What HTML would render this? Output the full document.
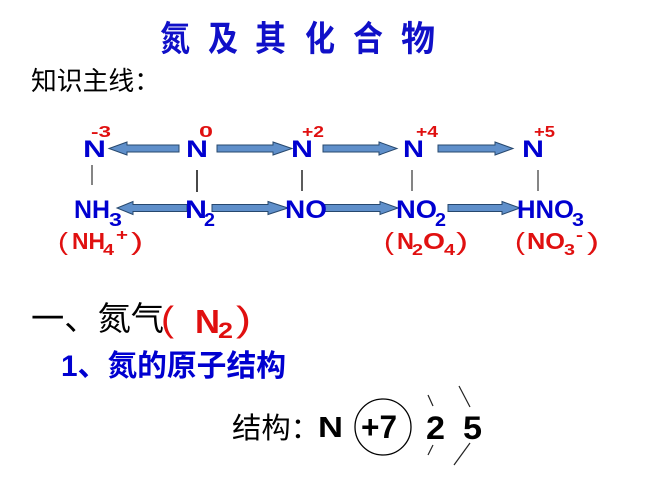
<!DOCTYPE html>
<html><head><meta charset="utf-8"><style>
html,body{margin:0;padding:0;background:#fff;}
svg{display:block;}
.lat{font-family:"Liberation Sans",sans-serif;font-weight:bold;}
.cjk{font-family:"Liberation Sans","Noto Sans CJK SC",sans-serif;}
</style></head><body>
<svg width="667" height="500" viewBox="0 0 667 500" xmlns="http://www.w3.org/2000/svg">
<rect width="667" height="500" fill="#fff"/>
<!-- Title -->
<g class="cjk" font-size="35" font-weight="bold" fill="#1010c8">
<text x="160" y="51" textLength="30" lengthAdjust="spacingAndGlyphs">氮</text>
<text x="208" y="51" textLength="30" lengthAdjust="spacingAndGlyphs">及</text>
<text x="255" y="51" textLength="31" lengthAdjust="spacingAndGlyphs">其</text>
<text x="305" y="51" textLength="30" lengthAdjust="spacingAndGlyphs">化</text>
<text x="353" y="51" textLength="30" lengthAdjust="spacingAndGlyphs">合</text>
<text x="401" y="51" textLength="34" lengthAdjust="spacingAndGlyphs">物</text>
</g>
<text class="cjk" x="31" y="90" font-size="26" fill="#000" textLength="129" lengthAdjust="spacingAndGlyphs">知识主线：</text>

<!-- Arrows -->
<g fill="#5f8fca" stroke="#27486e" stroke-width="1">
<polygon points="179,145 127,145 127,142 109,148.5 127,155 127,152 179,152"/>
<polygon points="217,145 273,145 273,142 292,148.5 273,155 273,152 217,152"/>
<polygon points="323,145 379,145 379,142 397,148.5 379,155 379,152 323,152"/>
<polygon points="438,145 495,145 495,142 513,148.5 495,155 495,152 438,152"/>
<polygon points="187,204.5 133,204.5 133,201.5 117,208 133,214.5 133,211.5 187,211.5"/>
<polygon points="212,204.5 268,204.5 268,201.5 288,208 268,214.5 268,211.5 212,211.5"/>
<polygon points="325,204.5 380,204.5 380,201.5 398,208 380,214.5 380,211.5 325,211.5"/>
<polygon points="448,204.5 502,204.5 502,201.5 520,208 502,214.5 502,211.5 448,211.5"/>
</g>

<!-- vertical connectors -->
<g stroke="#333" stroke-width="1.2">
<line x1="92" y1="165" x2="92" y2="185"/>
<line x1="197" y1="170" x2="197" y2="192" stroke-width="1.8"/>
<line x1="302" y1="170" x2="302" y2="191" stroke-width="1.6"/>
<line x1="412" y1="170" x2="412" y2="191"/>
<line x1="538" y1="170" x2="538" y2="191"/>
</g>

<!-- top row N -->
<g class="lat" font-size="24.5" fill="#0000d0">
<text x="83" y="157" textLength="23" lengthAdjust="spacingAndGlyphs">N</text>
<text x="186" y="157" textLength="22" lengthAdjust="spacingAndGlyphs">N</text>
<text x="291" y="157" textLength="22" lengthAdjust="spacingAndGlyphs">N</text>
<text x="403" y="157" textLength="21" lengthAdjust="spacingAndGlyphs">N</text>
<text x="522" y="157" textLength="22" lengthAdjust="spacingAndGlyphs">N</text>
</g>
<g class="lat" font-size="16" fill="#e01010">
<text x="91" y="137" textLength="20" lengthAdjust="spacingAndGlyphs">-3</text>
<text x="199" y="137" textLength="14" lengthAdjust="spacingAndGlyphs">0</text>
<text x="302" y="137" textLength="22" lengthAdjust="spacingAndGlyphs">+2</text>
<text x="416" y="137" textLength="22" lengthAdjust="spacingAndGlyphs">+4</text>
<text x="534" y="137" textLength="21" lengthAdjust="spacingAndGlyphs">+5</text>
</g>

<!-- second row -->
<g class="lat" font-size="25" fill="#0000d0">
<text x="74" y="218" textLength="36" lengthAdjust="spacingAndGlyphs">NH</text>
<text x="185" y="218" textLength="22" lengthAdjust="spacingAndGlyphs">N</text>
<text x="285" y="218" textLength="42" lengthAdjust="spacingAndGlyphs">NO</text>
<text x="396" y="218" textLength="41" lengthAdjust="spacingAndGlyphs">NO</text>
<text x="517" y="218" textLength="57" lengthAdjust="spacingAndGlyphs">HNO</text>
</g>
<g class="lat" font-size="18" fill="#0000d0">
<text x="109" y="226" textLength="13" lengthAdjust="spacingAndGlyphs">3</text>
<text x="204" y="226" textLength="11" lengthAdjust="spacingAndGlyphs">2</text>
<text x="435" y="226" textLength="11" lengthAdjust="spacingAndGlyphs">2</text>
<text x="572" y="226" textLength="12" lengthAdjust="spacingAndGlyphs">3</text>
</g>

<!-- third row red -->
<g fill="#e01010">
<g font-family="Liberation Sans, sans-serif" font-size="25">
<text x="58" y="250" textLength="10" lengthAdjust="spacingAndGlyphs">(</text>
<text x="131" y="250" textLength="12" lengthAdjust="spacingAndGlyphs">)</text>
<text x="384" y="250" textLength="10" lengthAdjust="spacingAndGlyphs">(</text>
<text x="456" y="250" textLength="12" lengthAdjust="spacingAndGlyphs">)</text>
<text x="515" y="250" textLength="10" lengthAdjust="spacingAndGlyphs">(</text>
<text x="587" y="250" textLength="12" lengthAdjust="spacingAndGlyphs">)</text>
</g>
<g class="lat" font-size="23">
<text x="72" y="249" textLength="33" lengthAdjust="spacingAndGlyphs">NH</text>
<text x="397" y="249" textLength="17" lengthAdjust="spacingAndGlyphs">N</text>
<text x="423" y="249" textLength="22" lengthAdjust="spacingAndGlyphs">O</text>
<text x="527" y="249" textLength="38" lengthAdjust="spacingAndGlyphs">NO</text>
</g>
<g class="lat" font-size="16">
<text x="103" y="255" textLength="11" lengthAdjust="spacingAndGlyphs">4</text>
<text x="116" y="240" textLength="12" lengthAdjust="spacingAndGlyphs">+</text>
<text x="412" y="255" textLength="11" lengthAdjust="spacingAndGlyphs">2</text>
<text x="444" y="255" textLength="11" lengthAdjust="spacingAndGlyphs">4</text>
<text x="564" y="255" textLength="11" lengthAdjust="spacingAndGlyphs">3</text>
<text x="576" y="240" textLength="7" lengthAdjust="spacingAndGlyphs">-</text>
</g>
</g>

<!-- Section heading -->
<text class="cjk" x="31" y="330" font-size="33" fill="#000" textLength="133" lengthAdjust="spacingAndGlyphs">一、氮气</text>
<g fill="#e01010">
<text x="161" y="331" font-family="Liberation Sans, sans-serif" font-size="35" textLength="13" lengthAdjust="spacingAndGlyphs">(</text>
<text x="236" y="331" font-family="Liberation Sans, sans-serif" font-size="35" textLength="15" lengthAdjust="spacingAndGlyphs">)</text>
<text class="lat" x="195" y="333" font-size="33" textLength="25" lengthAdjust="spacingAndGlyphs">N</text>
<text class="lat" x="218" y="338" font-size="22" textLength="15" lengthAdjust="spacingAndGlyphs">2</text>
</g>

<text class="cjk" x="61" y="376" font-size="30" font-weight="bold" fill="#0000d0" textLength="225" lengthAdjust="spacingAndGlyphs">1、氮的原子结构</text>

<!-- structure -->
<text class="cjk" x="232" y="438" font-size="29" fill="#000" textLength="88" lengthAdjust="spacingAndGlyphs">结构：</text>
<text class="lat" x="318" y="437" font-size="29" fill="#000" textLength="25" lengthAdjust="spacingAndGlyphs">N</text>
<circle cx="383" cy="427" r="28" fill="none" stroke="#000" stroke-width="1.3"/>
<text class="lat" x="361" y="438" font-size="32" fill="#000" textLength="36" lengthAdjust="spacingAndGlyphs">+7</text>
<text class="lat" x="426" y="439" font-size="32" fill="#000" textLength="19" lengthAdjust="spacingAndGlyphs">2</text>
<text class="lat" x="463" y="439" font-size="32" fill="#000" textLength="19" lengthAdjust="spacingAndGlyphs">5</text>
<g stroke="#222" stroke-width="1.2">
<line x1="428" y1="395" x2="433" y2="406"/>
<line x1="433" y1="445" x2="428" y2="455"/>
<line x1="459" y1="386" x2="470" y2="407"/>
<line x1="470" y1="443" x2="454" y2="465"/>
</g>
</svg>
</body></html>
